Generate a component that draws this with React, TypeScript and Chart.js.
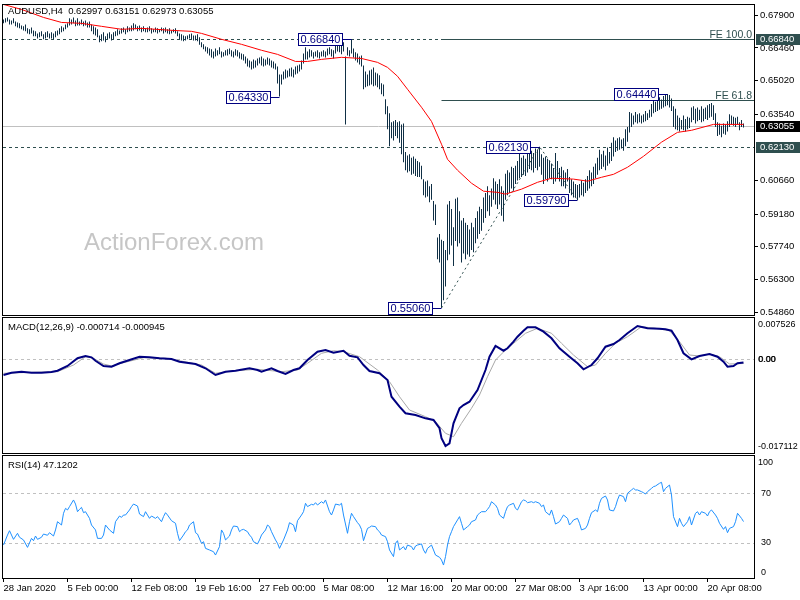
import React, { useEffect, useRef } from 'react';
import { Chart, registerables } from 'chart.js';

Chart.register(...registerables);

const FONT = '"Liberation Sans", Arial, sans-serif';

// ---------- price data (H4 bars, high / low) ----------
const HIGH = [
  0.6771,0.6776,0.6780,0.6771,0.6767,0.6776,0.6762,0.6758,
  0.6754,0.6745,0.6741,0.6749,0.6732,0.6728,0.6736,0.6723,
  0.6719,0.6710,0.6715,0.6719,0.6706,0.6715,0.6719,0.6710,
  0.6715,0.6710,0.6719,0.6723,0.6732,0.6741,0.6736,0.6749,
  0.6754,0.6776,0.6771,0.6780,0.6767,0.6776,0.6762,0.6771,
  0.6762,0.6767,0.6758,0.6762,0.6749,0.6741,0.6736,0.6728,
  0.6701,0.6706,0.6715,0.6697,0.6710,0.6715,0.6706,0.6715,
  0.6719,0.6728,0.6723,0.6732,0.6736,0.6728,0.6741,0.6736,
  0.6745,0.6754,0.6749,0.6741,0.6745,0.6736,0.6741,0.6732,
  0.6736,0.6741,0.6732,0.6728,0.6736,0.6732,0.6728,0.6736,
  0.6732,0.6736,0.6728,0.6732,0.6723,0.6728,0.6732,0.6719,
  0.6710,0.6706,0.6701,0.6697,0.6701,0.6706,0.6710,0.6701,
  0.6701,0.6706,0.6693,0.6671,0.6662,0.6653,0.6649,0.6644,
  0.6640,0.6631,0.6644,0.6636,0.6649,0.6631,0.6627,0.6636,
  0.6640,0.6644,0.6636,0.6631,0.6640,0.6636,0.6627,0.6622,
  0.6618,0.6609,0.6600,0.6591,0.6587,0.6596,0.6591,0.6600,
  0.6604,0.6609,0.6600,0.6596,0.6604,0.6600,0.6591,0.6587,
  0.6578,0.6565,0.6530,0.6530,0.6543,0.6552,0.6547,0.6556,
  0.6560,0.6552,0.6565,0.6569,0.6574,0.6591,0.6622,0.6649,
  0.6631,0.6640,0.6636,0.6627,0.6631,0.6636,0.6627,0.6631,
  0.6636,0.6631,0.6644,0.6649,0.6640,0.6636,0.6662,0.6671,
  0.6662,0.6666,0.6671,0.6609,0.6649,0.6636,0.6684,0.6644,
  0.6627,0.6622,0.6609,0.6613,0.6569,0.6543,0.6530,0.6547,
  0.6552,0.6560,0.6539,0.6534,0.6526,0.6491,0.6486,0.6421,
  0.6390,0.6360,0.6320,0.6325,0.6330,0.6320,0.6325,0.6310,
  0.6315,0.6190,0.6175,0.6180,0.6165,0.6170,0.6160,0.6150,
  0.6145,0.6130,0.6070,0.6060,0.6065,0.6040,0.6050,0.5975,
  0.5960,0.5815,0.5830,0.5805,0.5800,0.5760,0.5960,0.5975,
  0.5940,0.5860,0.5985,0.5990,0.5930,0.5890,0.5900,0.5880,
  0.5870,0.5850,0.5880,0.5860,0.5900,0.5930,0.5950,0.5940,
  0.5990,0.6010,0.6040,0.6000,0.6030,0.6075,0.6060,0.6050,
  0.6070,0.6040,0.6020,0.6095,0.6110,0.6100,0.6125,0.6120,
  0.6130,0.6150,0.6185,0.6165,0.6175,0.6160,0.6190,0.6200,
  0.6195,0.6185,0.6205,0.6200,0.6213,0.6180,0.6165,0.6170,
  0.6160,0.6150,0.6140,0.6120,0.6185,0.6150,0.6120,0.6125,
  0.6110,0.6100,0.6115,0.6080,0.6070,0.6060,0.6050,0.6045,
  0.6050,0.6065,0.6055,0.6070,0.6085,0.6110,0.6100,0.6125,
  0.6140,0.6165,0.6200,0.6180,0.6195,0.6175,0.6210,0.6190,
  0.6230,0.6255,0.6240,0.6250,0.6255,0.6245,0.6250,0.6290,
  0.6300,0.6365,0.6360,0.6350,0.6365,0.6355,0.6360,0.6350,
  0.6355,0.6370,0.6360,0.6375,0.6400,0.6415,0.6410,0.6425,
  0.6430,0.6420,0.6435,0.6440,0.6444,0.6440,0.6425,0.6390,
  0.6380,0.6350,0.6340,0.6330,0.6350,0.6335,0.6345,0.6340,
  0.6385,0.6390,0.6380,0.6385,0.6375,0.6390,0.6380,0.6385,
  0.6395,0.6400,0.6405,0.6395,0.6360,0.6320,0.6315,0.6305,
  0.6315,0.6310,0.6325,0.6355,0.6350,0.6345,0.6340,0.6345,
  0.6320,0.6330,0.6315,
];

const LOW = [
  0.6754,0.6758,0.6762,0.6749,0.6749,0.6754,0.6741,0.6736,
  0.6732,0.6728,0.6723,0.6719,0.6710,0.6706,0.6710,0.6697,
  0.6697,0.6688,0.6693,0.6697,0.6684,0.6688,0.6693,0.6688,
  0.6688,0.6684,0.6693,0.6701,0.6706,0.6715,0.6719,0.6728,
  0.6736,0.6745,0.6749,0.6754,0.6741,0.6745,0.6745,0.6749,
  0.6741,0.6745,0.6736,0.6736,0.6719,0.6706,0.6701,0.6693,
  0.6671,0.6675,0.6679,0.6671,0.6684,0.6688,0.6679,0.6684,
  0.6697,0.6701,0.6706,0.6710,0.6715,0.6706,0.6715,0.6719,
  0.6719,0.6723,0.6728,0.6719,0.6723,0.6715,0.6719,0.6715,
  0.6715,0.6719,0.6710,0.6715,0.6715,0.6710,0.6715,0.6719,
  0.6710,0.6715,0.6710,0.6706,0.6710,0.6715,0.6710,0.6697,
  0.6684,0.6679,0.6675,0.6679,0.6684,0.6688,0.6684,0.6679,
  0.6679,0.6675,0.6660,0.6649,0.6640,0.6631,0.6622,0.6613,
  0.6604,0.6600,0.6609,0.6613,0.6618,0.6604,0.6609,0.6613,
  0.6613,0.6618,0.6609,0.6604,0.6613,0.6609,0.6600,0.6596,
  0.6591,0.6578,0.6565,0.6560,0.6552,0.6556,0.6560,0.6569,
  0.6578,0.6569,0.6565,0.6569,0.6574,0.6569,0.6560,0.6556,
  0.6552,0.6490,0.6433,0.6486,0.6508,0.6512,0.6517,0.6521,
  0.6521,0.6517,0.6530,0.6534,0.6543,0.6552,0.6578,0.6596,
  0.6596,0.6604,0.6609,0.6600,0.6609,0.6604,0.6600,0.6609,
  0.6609,0.6604,0.6613,0.6618,0.6609,0.6600,0.6622,0.6631,
  0.6627,0.6618,0.6631,0.6311,0.6613,0.6609,0.6622,0.6604,
  0.6591,0.6582,0.6574,0.6565,0.6465,0.6474,0.6478,0.6482,
  0.6486,0.6478,0.6482,0.6474,0.6465,0.6443,0.6434,0.6355,
  0.6290,0.6215,0.6250,0.6240,0.6260,0.6250,0.6230,0.6180,
  0.6145,0.6110,0.6100,0.6105,0.6090,0.6095,0.6085,0.6080,
  0.6080,0.6070,0.6000,0.5990,0.5995,0.5970,0.5980,0.5890,
  0.5870,0.5720,0.5705,0.5506,0.5540,0.5600,0.5715,0.5740,
  0.5780,0.5690,0.5800,0.5775,0.5790,0.5705,0.5745,0.5720,
  0.5740,0.5730,0.5760,0.5750,0.5790,0.5810,0.5830,0.5845,
  0.5880,0.5900,0.5930,0.5910,0.5950,0.5980,0.5960,0.5940,
  0.5960,0.5910,0.5885,0.5980,0.6000,0.6010,0.6030,0.6020,
  0.6050,0.6065,0.6075,0.6080,0.6090,0.6085,0.6100,0.6115,
  0.6110,0.6100,0.6120,0.6110,0.6125,0.6090,0.6050,0.6070,
  0.6060,0.6075,0.6070,0.6050,0.6060,0.6075,0.6060,0.6040,
  0.6040,0.6030,0.6060,0.6010,0.6000,0.5990,0.5990,0.5979,
  0.5990,0.6000,0.5995,0.6010,0.6020,0.6030,0.6040,0.6050,
  0.6075,0.6090,0.6110,0.6115,0.6125,0.6110,0.6130,0.6140,
  0.6150,0.6170,0.6190,0.6195,0.6200,0.6205,0.6195,0.6215,
  0.6235,0.6275,0.6300,0.6310,0.6320,0.6315,0.6320,0.6315,
  0.6320,0.6325,0.6330,0.6340,0.6345,0.6360,0.6365,0.6370,
  0.6375,0.6380,0.6385,0.6390,0.6395,0.6385,0.6370,0.6300,
  0.6290,0.6285,0.6280,0.6290,0.6285,0.6280,0.6290,0.6295,
  0.6320,0.6330,0.6315,0.6325,0.6330,0.6320,0.6325,0.6335,
  0.6330,0.6340,0.6345,0.6330,0.6300,0.6260,0.6265,0.6255,
  0.6270,0.6265,0.6280,0.6300,0.6310,0.6305,0.6300,0.6310,
  0.6285,0.6300,0.6297,
];

// moving average (red) [bar index, value]
const MA_POINTS = [
  [0,0.6837],[9,0.6815],[20,0.6780],[29,0.6758],[39,0.6754],[49,0.6741],[59,0.6728],
  [69,0.6732],[85,0.6723],[94,0.6719],[99,0.6710],[109,0.6684],[119,0.6662],[129,0.6636],
  [137,0.6618],[146,0.6587],[152,0.6587],[159,0.6596],[169,0.6605],[179,0.6600],[187,0.6583],
  [192,0.6561],[197,0.6522],[202,0.6465],[209,0.6386],[214,0.6324],[219,0.6224],[222,0.6158],
  [227,0.6110],[234,0.6053],[240,0.6018],[247,0.6013],[251,0.6005],[259,0.6027],[267,0.6057],
  [274,0.6075],[285,0.6071],[292,0.6062],[299,0.6079],[305,0.6092],[312,0.6123],[320,0.6171],
  [329,0.6233],[337,0.6276],[344,0.6285],[355,0.6311],[370,0.6311],
];

// labelled swing points [bar index, price]
const PIVOTS = [[138,0.6433],[174,0.6684],[219,0.5506],[268,0.6213],[287,0.5979],[332,0.6444]];
// dotted swing lines
const SWING_LINE = [[219,0.5506],[268,0.6213],[287,0.5979]];
const DASHED_LEVELS = [0.6684, 0.6213];
const FE_LEVELS = [0.6686, 0.6416];
const FE_NAMES = ['FE 100.0', 'FE 61.8'];
const FE_START = 219;
const SYMBOL = 'AUDUSD,H4';
const LAST_OHLC = [0.62997, 0.63151, 0.62973, 0.63055];
const PRICE_TICKS = [0.679, 0.6646, 0.6502, 0.6354, 0.6066, 0.5918, 0.5774, 0.563, 0.5486];
const WATERMARK = 'ActionForex.com';

// ---------- MACD ----------
const MACD_POINTS = [
  [0,-0.00355],[4,-0.00303],[9,-0.00280],[14,-0.00303],[19,-0.00303],[24,-0.00287],[27,-0.00257],
  [32,-0.00151],[37,0.00023],[41,0.00075],[44,0.00045],[46,-0.00032],[50,-0.00151],[54,-0.00167],
  [58,-0.00090],[63,-0.00016],[68,0.00059],[73,0.00045],[78,0.00023],[84,0.00007],[88,-0.00054],
  [96,-0.00106],[101,-0.00203],[106,-0.00355],[111,-0.00280],[116,-0.00257],[123,-0.00203],
  [127,-0.00242],[129,-0.00280],[134,-0.00203],[137,-0.00264],[141,-0.00332],[145,-0.00242],
  [148,-0.00203],[152,-0.00016],[157,0.00172],[161,0.00210],[165,0.00149],[170,0.00194],
  [173,0.00081],[177,0.00045],[180,-0.00129],[183,-0.00264],[188,-0.00316],[192,-0.00468],
  [194,-0.00845],[198,-0.01071],[201,-0.01220],[206,-0.01259],[211,-0.01334],[215,-0.01372],
  [218,-0.01559],[219,-0.01785],[221,-0.01959],[223,-0.01898],[225,-0.01446],[228,-0.01107],
  [230,-0.01033],[233,-0.00958],[237,-0.00694],[241,-0.00242],[243,0.00059],[246,0.00301],
  [250,0.00194],[252,0.00249],[255,0.00398],[257,0.00511],[260,0.00646],[262,0.00723],
  [266,0.00723],[270,0.00624],[274,0.00475],[278,0.00249],[283,0.00059],[287,-0.00090],
  [290,-0.00226],[294,-0.00129],[297,0.00023],[301,0.00285],[305,0.00346],[308,0.00436],
  [312,0.00588],[317,0.00753],[322,0.00701],[328,0.00692],[331,0.00678],[334,0.00646],
  [337,0.00436],[340,0.00136],[344,0.00000],[348,0.00075],[353,0.00120],[357,0.00059],
  [360,-0.00054],[362,-0.00167],[365,-0.00151],[367,-0.00090],[370,-0.00071],
];
const SIGNAL_POINTS = [
  [0,-0.00316],[14,-0.00294],[27,-0.00280],[35,-0.00129],[41,0.00059],[45,0.00023],[50,-0.00106],
  [54,-0.00151],[60,-0.00077],[70,0.00036],[81,0.00023],[88,-0.00032],[99,-0.00129],[106,-0.00316],
  [114,-0.00264],[127,-0.00226],[139,-0.00280],[147,-0.00242],[152,-0.00090],[159,0.00136],
  [165,0.00194],[170,0.00172],[178,0.00059],[187,-0.00242],[193,-0.00506],[198,-0.00845],
  [203,-0.01146],[211,-0.01297],[216,-0.01410],[221,-0.01672],[225,-0.01749],[229,-0.01446],
  [234,-0.01107],[238,-0.00807],[242,-0.00393],[246,-0.00016],[251,0.00210],[256,0.00398],
  [261,0.00588],[267,0.00701],[274,0.00588],[279,0.00362],[285,0.00097],[292,-0.00167],
  [296,-0.00129],[301,0.00136],[306,0.00362],[312,0.00511],[319,0.00737],[326,0.00701],
  [333,0.00646],[338,0.00398],[343,0.00097],[348,0.00075],[353,0.00120],[358,0.00059],
  [363,-0.00106],[370,-0.00095],
];
const MACD_TITLE = 'MACD(12,26,9) -0.000714 -0.000945';
const MACD_AXIS_LABELS = ['0.007526', '0.00', '-0.017112'];

// ---------- RSI ----------
const RSI_POINTS = [
  [0,28.1],[2,36.2],[3,39.7],[5,32.7],[7,37.6],[8,34.4],[10,32.2],[12,26.2],[14,33.5],[15,31.6],
  [16,35.4],[17,32.7],[19,34.4],[20,37.0],[22,36.0],[23,38.1],[25,35.4],[26,40.3],[27,47.0],[29,44.3],
  [30,53.8],[31,57.8],[32,56.5],[33,59.2],[35,64.6],[36,61.3],[37,55.1],[38,57.0],[39,58.6],[40,54.3],
  [41,55.1],[43,49.7],[44,44.3],[46,40.3],[47,33.5],[49,33.5],[50,36.2],[51,44.3],[53,40.3],[55,37.6],
  [56,47.0],[58,51.6],[59,50.5],[60,52.4],[61,52.4],[63,56.5],[64,59.2],[65,61.3],[67,59.7],[68,53.2],
  [70,51.1],[71,55.1],[73,49.7],[74,51.6],[76,49.7],[77,51.1],[79,47.0],[80,51.1],[81,54.3],[82,52.4],
  [84,47.8],[86,45.7],[87,37.6],[88,31.6],[90,36.2],[91,38.9],[92,40.3],[93,44.3],[95,47.0],[96,38.1],
  [97,37.0],[99,29.5],[100,30.8],[101,25.4],[103,24.1],[105,22.7],[106,20.0],[108,26.8],[109,40.3],[110,37.6],
  [111,32.2],[113,35.4],[114,40.3],[115,43.5],[117,43.0],[118,38.9],[119,40.3],[120,40.8],[122,38.9],[123,36.2],
  [124,34.4],[125,30.8],[127,29.0],[128,32.2],[129,36.2],[131,40.3],[132,44.3],[133,43.0],[134,38.9],[136,32.2],
  [137,29.5],[138,25.4],[140,32.2],[141,36.2],[142,40.3],[143,46.2],[145,44.3],[146,38.9],[147,47.8],[149,52.4],
  [150,55.1],[151,61.9],[152,59.2],[154,61.1],[155,60.5],[156,62.4],[157,60.5],[159,63.2],[160,61.9],[161,64.6],
  [163,55.1],[164,52.4],[165,56.5],[166,61.3],[168,60.5],[169,61.9],[170,52.4],[172,37.6],[173,47.0],[174,53.8],
  [175,51.1],[177,46.2],[178,44.3],[179,40.8],[180,31.6],[182,41.6],[183,42.4],[184,43.5],[186,43.0],[187,40.3],
  [188,38.9],[189,36.2],[191,34.9],[192,30.8],[193,24.1],[195,18.7],[196,29.5],[197,31.6],[198,24.1],[200,26.8],
  [201,24.1],[202,28.1],[204,26.8],[205,24.1],[206,27.3],[207,28.1],[209,29.0],[210,24.1],[211,21.4],[212,25.4],
  [214,28.1],[215,24.1],[216,20.0],[218,18.2],[219,16.0],[220,11.9],[221,18.7],[222,28.1],[223,34.9],[224,38.9],
  [225,43.0],[227,48.4],[228,51.1],[229,45.7],[230,40.3],[232,43.0],[233,44.3],[234,47.0],[236,48.4],[237,52.4],
  [238,53.8],[239,55.1],[241,55.1],[242,57.0],[243,59.2],[244,63.2],[246,60.5],[247,57.8],[248,52.4],[250,49.7],
  [251,55.1],[252,59.2],[253,60.5],[255,61.9],[256,57.8],[257,56.5],[259,63.2],[260,64.6],[261,64.0],[262,62.4],
  [264,63.2],[265,62.4],[266,63.2],[268,61.9],[269,59.2],[270,60.5],[271,55.1],[273,52.4],[274,56.5],[275,51.1],
  [276,45.1],[278,47.0],[279,49.7],[280,52.4],[282,49.7],[283,44.3],[284,46.2],[285,48.4],[287,49.7],[288,45.7],
  [289,40.3],[291,41.6],[292,44.3],[293,49.7],[294,54.3],[296,56.5],[297,55.1],[298,61.9],[299,65.9],[301,67.8],
  [302,64.6],[303,56.5],[305,55.7],[306,59.2],[307,64.6],[308,68.6],[310,67.3],[311,63.2],[312,70.0],[314,72.7],
  [315,74.0],[316,72.7],[317,72.7],[319,71.3],[320,70.5],[321,69.4],[322,71.3],[324,74.0],[325,75.4],[326,75.9],
  [328,78.1],[329,78.9],[330,71.3],[331,74.0],[333,76.7],[334,68.6],[335,51.1],[337,43.0],[338,49.7],[339,45.7],
  [340,43.0],[342,47.0],[343,51.1],[344,44.3],[346,53.8],[347,55.1],[348,52.4],[349,55.1],[351,53.8],[352,51.6],
  [353,55.1],[354,56.5],[356,52.4],[357,49.7],[358,45.7],[360,40.8],[361,43.0],[362,38.1],[363,41.6],[365,43.0],
  [366,47.0],[367,53.8],[369,49.7],[370,47.1],
];
const RSI_TITLE = 'RSI(14) 47.1202';
const RSI_LEVELS = [70, 30];
const RSI_AXIS_LABELS = ['100', '70', '30', '0'];

// ---------- time axis ----------
const TICK_IDX = [0, 32, 64, 96, 128, 160, 192, 224, 256, 288, 320, 352];
const TICK_LABELS = ['28 Jan 2020', '5 Feb 00:00', '12 Feb 08:00', '19 Feb 16:00', '27 Feb 00:00', '5 Mar 08:00',
  '12 Mar 16:00', '20 Mar 00:00', '27 Mar 08:00', '3 Apr 16:00', '13 Apr 00:00', '20 Apr 08:00'];

// ---------- axis ranges ----------
const X_MIN = -0.25;
const X_MAX = 375.25;
const PRICE_MIN = 0.54751;
const PRICE_MAX = 0.68345;
const MACD_MIN = -0.021176;
const MACD_MAX = 0.009334;
const RSI_MIN = 1.4;
const RSI_MAX = 100.2;

const pts = (arr: number[][]) => arr.map(([x, y]) => ({ x, y }));

function drawFrame(ctx: CanvasRenderingContext2D, a: any) {
  ctx.save();
  ctx.strokeStyle = '#000';
  ctx.lineWidth = 1;
  ctx.setLineDash([]);
  ctx.strokeRect(a.left - 0.5, a.top - 0.5, a.right - a.left + 1, a.bottom - a.top + 1);
  ctx.restore();
}

function text(ctx: CanvasRenderingContext2D, s: string, x: number, y: number, size: number, color: string, align: CanvasTextAlign = 'left', baseline: CanvasTextBaseline = 'middle') {
  ctx.save();
  ctx.font = `${size}px ${FONT}`;
  ctx.fillStyle = color;
  ctx.textAlign = align;
  ctx.textBaseline = baseline;
  ctx.fillText(s, x, y);
  ctx.restore();
}

function hline(ctx: CanvasRenderingContext2D, x0: number, x1: number, y: number, color: string, dash: number[] = []) {
  const yy = Math.round(y) + 0.5;
  ctx.save();
  ctx.strokeStyle = color;
  ctx.lineWidth = 1;
  ctx.setLineDash(dash);
  ctx.beginPath();
  ctx.moveTo(x0, yy);
  ctx.lineTo(x1, yy);
  ctx.stroke();
  ctx.restore();
}

const mainDecor = {
  id: 'mainDecor',
  beforeDatasetsDraw(chart: any) {
    const { ctx, chartArea: a, scales } = chart;
    const xs = scales.x, ys = scales.y;
    ctx.save();
    ctx.beginPath();
    ctx.rect(a.left, a.top, a.right - a.left, a.bottom - a.top);
    ctx.clip();
    text(ctx, WATERMARK, a.left + 81, a.top + 245, 24, '#c6c6c6', 'left', 'alphabetic');
    hline(ctx, a.left, a.right, ys.getPixelForValue(LAST_OHLC[3]), '#c0c0c0');
    DASHED_LEVELS.forEach((lv) => hline(ctx, a.left, a.right, ys.getPixelForValue(lv), '#2f4f4f', [3, 3]));
    const fx = xs.getPixelForValue(FE_START);
    FE_LEVELS.forEach((lv, i) => {
      const yy = ys.getPixelForValue(lv);
      hline(ctx, fx, a.right, yy, '#2f4f4f');
      text(ctx, FE_NAMES[i], a.right - 2, Math.round(yy) - 1, 10.5, '#2f4f4f', 'right', 'alphabetic');
    });
    ctx.restore();
  },
  afterDatasetsDraw(chart: any) {
    const { ctx, chartArea: a, scales } = chart;
    const xs = scales.x, ys = scales.y;
    ctx.save();
    ctx.font = `11px ${FONT}`;
    PIVOTS.forEach(([idx, val]) => {
      const px = xs.getPixelForValue(idx);
      const py = Math.round(ys.getPixelForValue(val));
      const label = val.toFixed(5);
      const tw = Math.round(ctx.measureText(label).width + 4);
      const right = Math.round(px - 10);
      const left = right - tw;
      ctx.fillStyle = '#ffffff';
      ctx.fillRect(left, py - 6, tw, 12);
      ctx.strokeStyle = '#000080';
      ctx.lineWidth = 1;
      ctx.strokeRect(left + 0.5, py - 6 + 0.5, tw, 12);
      ctx.beginPath();
      ctx.moveTo(right + 0.5, py + 0.5);
      ctx.lineTo(px, py + 0.5);
      ctx.stroke();
      ctx.fillStyle = '#000080';
      ctx.textAlign = 'center';
      ctx.textBaseline = 'middle';
      ctx.fillText(label, left + tw / 2 + 0.5, py + 1);
    });
    ctx.restore();
    const title = `${SYMBOL}  ${LAST_OHLC.map((v) => v.toFixed(5)).join(' ')}`;
    text(ctx, title, a.left + 5, a.top + 6, 9.5, '#000');
  },
  afterDraw(chart: any) {
    const { ctx, chartArea: a, scales } = chart;
    const ys = scales.y;
    const box = (val: number, bg: string) => {
      const y = Math.round(ys.getPixelForValue(val));
      ctx.save();
      ctx.fillStyle = bg;
      ctx.fillRect(a.right + 2, y - 5, 44, 11);
      ctx.restore();
      text(ctx, val.toFixed(5), a.right + 6, y + 0.5, 9.5, '#ffffff');
    };
    DASHED_LEVELS.forEach((lv) => box(lv, '#2f4f4f'));
    box(LAST_OHLC[3], '#000000');
    drawFrame(ctx, a);
  },
};

const macdDecor = {
  id: 'macdDecor',
  beforeDatasetsDraw(chart: any) {
    const { ctx, chartArea: a, scales } = chart;
    hline(ctx, a.left, a.right, scales.y.getPixelForValue(0), '#c0c0c0', [3, 3]);
  },
  afterDraw(chart: any) {
    const { ctx, chartArea: a, scales } = chart;
    text(ctx, MACD_TITLE, a.left + 5, a.top + 9, 9.5, '#000');
    const lx = a.right + 4;
    text(ctx, MACD_AXIS_LABELS[0], lx, a.top + 7, 9, '#000');
    const z = scales.y.getPixelForValue(0);
    text(ctx, MACD_AXIS_LABELS[1], lx, z, 9, '#000');
    text(ctx, MACD_AXIS_LABELS[1], lx + 0.6, z, 9, '#000');
    text(ctx, MACD_AXIS_LABELS[2], lx, a.bottom - 6.5, 9, '#000');
    drawFrame(ctx, a);
  },
};

const rsiDecor = {
  id: 'rsiDecor',
  beforeDatasetsDraw(chart: any) {
    const { ctx, chartArea: a, scales } = chart;
    RSI_LEVELS.forEach((lv) => hline(ctx, a.left, a.right, scales.y.getPixelForValue(lv), '#c0c0c0', [3, 3]));
  },
  afterDraw(chart: any) {
    const { ctx, chartArea: a, scales } = chart;
    text(ctx, RSI_TITLE, a.left + 5, a.top + 9, 9.5, '#000');
    const lx = a.right + 4;
    text(ctx, RSI_AXIS_LABELS[0], lx, a.top + 7, 9, '#000');
    text(ctx, RSI_AXIS_LABELS[1], lx + 3, scales.y.getPixelForValue(RSI_LEVELS[0]), 9, '#000');
    text(ctx, RSI_AXIS_LABELS[2], lx + 3, scales.y.getPixelForValue(RSI_LEVELS[1]), 9, '#000');
    text(ctx, RSI_AXIS_LABELS[3], lx + 3, a.bottom - 5.5, 9, '#000');
    drawFrame(ctx, a);
  },
};

const baseOpts = {
  responsive: false,
  animation: false as const,
  devicePixelRatio: 1,
  events: [] as any[],
  plugins: { legend: { display: false }, tooltip: { enabled: false } },
};

export default function App() {
  const mainRef = useRef<HTMLCanvasElement>(null);
  const macdRef = useRef<HTMLCanvasElement>(null);
  const rsiRef = useRef<HTMLCanvasElement>(null);

  useEffect(() => {
    const main = new Chart(mainRef.current as HTMLCanvasElement, {
      type: 'bar',
      data: {
        datasets: [
          { type: 'line', label: 'MA', data: pts(MA_POINTS), borderColor: '#ff0000', borderWidth: 1, pointRadius: 0, tension: 0, order: 1 } as any,
          { type: 'line', label: 'swing', data: pts(SWING_LINE), borderColor: '#2f4f4f', borderWidth: 1, borderDash: [2, 3], pointRadius: 0, tension: 0, order: 2 } as any,
          { type: 'bar', label: 'AUDUSD', data: HIGH.map((h, i) => ({ x: i, y: [LOW[i], h] })), backgroundColor: '#0f2f45', borderWidth: 0, barThickness: 1, inflateAmount: 0, order: 3 } as any,
        ],
      },
      options: {
        ...baseOpts,
        layout: { padding: { left: 3, top: 5, right: 0, bottom: 1 } },
        scales: {
          x: { type: 'linear', display: false, min: X_MIN, max: X_MAX, offset: false, grid: { offset: false } },
          y: {
            type: 'linear', position: 'right', min: PRICE_MIN, max: PRICE_MAX, beginAtZero: false,
            afterBuildTicks: (s: any) => { s.ticks = PRICE_TICKS.map((v) => ({ value: v })); },
            afterFit: (s: any) => { s.width = 46; s.paddingTop = 0; s.paddingBottom = 0; },
            ticks: { callback: (v: any) => Number(v).toFixed(5), font: { family: FONT, size: 9.5 }, color: '#000', padding: 2, autoSkip: false },
            grid: { drawOnChartArea: false, drawTicks: true, tickLength: 4, color: '#000' },
            border: { display: false },
          },
        },
      } as any,
      plugins: [mainDecor],
    });

    const macd = new Chart(macdRef.current as HTMLCanvasElement, {
      type: 'line',
      data: {
        datasets: [
          { label: 'Signal', data: pts(SIGNAL_POINTS), borderColor: '#a8a8a8', borderWidth: 1, pointRadius: 0, tension: 0, order: 2 },
          { label: 'MACD', data: pts(MACD_POINTS), borderColor: '#000080', borderWidth: 2, pointRadius: 0, tension: 0, order: 1 },
        ],
      },
      options: {
        ...baseOpts,
        layout: { padding: { left: 3, top: 2, right: 46, bottom: 2 } },
        scales: {
          x: { type: 'linear', display: false, min: X_MIN, max: X_MAX },
          y: { type: 'linear', display: false, min: MACD_MIN, max: MACD_MAX },
        },
      } as any,
      plugins: [macdDecor],
    });

    const rsi = new Chart(rsiRef.current as HTMLCanvasElement, {
      type: 'line',
      data: {
        datasets: [
          { label: 'RSI', data: pts(RSI_POINTS), borderColor: '#1e90ff', borderWidth: 1, pointRadius: 0, tension: 0 },
        ],
      },
      options: {
        ...baseOpts,
        layout: { padding: { left: 3, top: 1, right: 46, bottom: 0 } },
        scales: {
          x: {
            type: 'linear', min: X_MIN, max: X_MAX, position: 'bottom',
            afterBuildTicks: (s: any) => { s.ticks = TICK_IDX.map((v) => ({ value: v })); },
            afterFit: (s: any) => { s.height = 22; s.paddingLeft = 0; s.paddingRight = 0; },
            ticks: {
              callback: (v: any) => { const k = TICK_IDX.indexOf(Number(v)); return k >= 0 ? TICK_LABELS[k] : ''; },
              autoSkip: false, maxRotation: 0, minRotation: 0, align: 'start', padding: 1,
              font: { family: FONT, size: 9.5 }, color: '#000',
            },
            grid: { drawOnChartArea: false, drawTicks: true, tickLength: 4, color: '#000' },
            border: { display: false },
          },
          y: { type: 'linear', display: false, min: RSI_MIN, max: RSI_MAX },
        },
      } as any,
      plugins: [rsiDecor],
    });

    return () => { main.destroy(); macd.destroy(); rsi.destroy(); };
  }, []);

  const cs = (top: number, h: number): React.CSSProperties => ({ position: 'absolute', left: 0, top, width: 800, height: h, display: 'block' });

  return (
    <div style={{ position: 'fixed', left: 0, top: 0, width: 800, height: 600, background: '#fff', overflow: 'hidden' }}>
      <canvas ref={mainRef} width={800} height={316} style={cs(0, 316)} />
      <canvas ref={macdRef} width={800} height={139} style={cs(316, 139)} />
      <canvas ref={rsiRef} width={800} height={145} style={cs(455, 145)} />
    </div>
  );
}
